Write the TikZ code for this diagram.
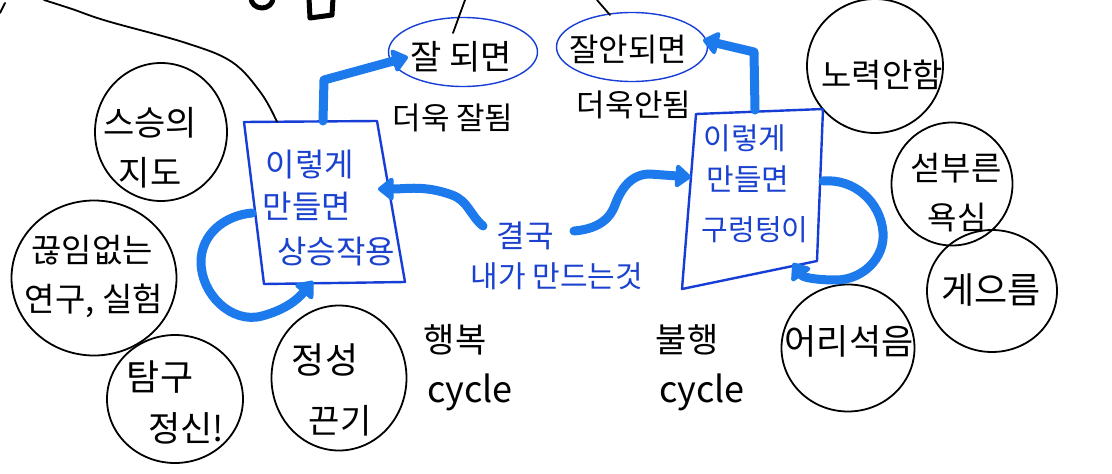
\documentclass[tikz,border=0pt]{standalone}
\usepackage{fontspec}
\newfontfamily\kr{Noto Sans CJK KR}
\usetikzlibrary{arrows.meta,shapes.geometric}
\definecolor{arrowblue}{RGB}{28,122,236}
\definecolor{boxblue}{RGB}{22,62,214}
\definecolor{textblue}{RGB}{26,66,206}
\begin{document}
\begin{tikzpicture}[x=1pt,y=-1pt,
  bubble/.style={draw=black,line width=1.8pt,ellipse,inner sep=0pt},
  oval/.style={draw=boxblue,line width=1.4pt,ellipse,inner sep=0pt},
  blk/.style={font=\kr\fontsize{#1}{#1}\selectfont,text=black,inner sep=0pt},
  blu/.style={font=\kr\fontsize{#1}{#1}\selectfont,text=textblue,inner sep=0pt},
  flow/.style={draw=arrowblue,line width=9pt,line cap=round,line join=round,-{Triangle[length=17pt,width=26pt,round]}},
  frame/.style={draw=boxblue,line width=2.4pt,line join=round},
  ink/.style={draw=black,line width=1.8pt,line cap=round},
  heavy/.style={draw=black,line width=5pt,line cap=round,line join=round}
]
\useasboundingbox (0,0) rectangle (1112,474);
\fill[white] (0,0) rectangle (1112,474);

% cropped strokes at the top edge
\begin{scope}
\clip (0,0) rectangle (1112,474);
\draw[heavy] (262,-2) ellipse [x radius=11pt, y radius=10pt];
\draw[heavy] (309,-2) -- (310,18) -- (332,15) -- (333,-2);
\end{scope}
\draw[ink] (0,13) -- (5,3);

% circles
\node[bubble,minimum width=132pt,minimum height=138pt] (teacher)  at (161,132) {};
\node[bubble,minimum width=165pt,minimum height=155pt] (research) at (94,278) {};
\node[bubble,minimum width=136pt,minimum height=128pt] (inquiry)  at (175,399) {};
\node[bubble,minimum width=135pt,minimum height=145pt] (sincere)  at (339,378) {};
\node[bubble,minimum width=136pt,minimum height=134pt] (noeffort) at (875,66) {};
\node[bubble,minimum width=121pt,minimum height=123pt] (greed)    at (952,184) {};
\node[bubble,minimum width=130pt,minimum height=122pt] (lazy)     at (992,291) {};
\node[bubble,minimum width=133pt,minimum height=127pt] (foolish)  at (848,348) {};

\node[blk=34] at (150,123) {스승의};
\node[blk=34] at (150,173) {지도};
\node[blk=33] at (92,250) {끊임없는};
\node[blk=33] at (94,301) {연구, 실험};
\node[blk=36] at (160,377) {탐구};
\node[blk=35] at (186,428) {정신!};
\node[blk=36] at (325,360) {정성};
\node[blk=34] at (340,421) {끈기};
\node[blk=33] at (882,75) {노력안함};
\node[blk=33] at (956,168) {섣부른};
\node[blk=32] at (957,218) {욕심};
\node[blk=36] at (991,290) {게으름};
\node[blk=35] at (849,341) {어리석음};

% ovals
\node[oval,minimum width=149pt,minimum height=69pt] (good) at (463,52) {};
\node[oval,minimum width=151pt,minimum height=69pt] (bad)  at (632,47) {};
\node[blk=34] at (461,57) {잘 되면};
\node[blk=32] at (628,50) {잘안되면};
\node[blk=31] (goodmore) at (453,118) {더욱 잘됨};
\node[blk=31] (badmore)  at (634,105) {더욱안됨};

% cycle labels
\node[blk=34] at (455,340) {행복};
\node[blk=36] at (470,392) {cycle};
\node[blk=34] at (687,340) {불행};
\node[blk=36] at (702,392) {cycle};

% boxes
\coordinate (b1tl) at (244,122); \coordinate (b1tr) at (377,121);
\coordinate (b1br) at (405,282); \coordinate (b1bl) at (264,284);
\draw[frame] (b1tl) -- (b1tr) -- (b1br) -- (b1bl) -- cycle;
\node[blu=32] at (310,165) {이렇게};
\node[blu=32] at (307,206) {만들면};
\node[blu=32] at (336,252) {상승작용};

\coordinate (b2tl) at (696,114); \coordinate (b2tr) at (823,109);
\coordinate (b2br) at (817,261); \coordinate (b2bl) at (682,289);
\draw[frame] (b2tl) -- (b2tr) -- (b2br) -- (b2bl) -- cycle;
\node[blu=30] at (745,138) {이렇게};
\node[blu=30] at (748,179) {만들면};
\node[blu=29] at (755,230) {구렁텅이};

% center text
\node[blu=31] (finally) at (525,236) {결국};
\node[blu=30] (imake) at (557,276) {내가 만드는것};

% black connector lines
\coordinate (topA) at (465,0); \coordinate (topB) at (597,0);
\coordinate (topC) at (44,0);
\coordinate (goodtop) at (453,33); \coordinate (badtop) at (610,15);
\coordinate (b1touch) at (277,121.8);
\draw[ink] (topA) -- (goodtop);
\draw[ink] (topB) -- (badtop);
\draw[ink] plot[smooth,tension=0.6] coordinates {(topC) (72,9) (107,21) (186,43) (232,62) (261,93) (b1touch)};

% blue arrows
\coordinate (b1up) at (323,121); \coordinate (goodin) at (408,57);
\draw[flow] (b1up) -- (324,80) -- (goodin);
\coordinate (b2up) at (755,110); \coordinate (badin) at (703,40);
\draw[flow] (b2up) -- (754,52) -- (badin);

\coordinate (b1left) at (252,213); \coordinate (b1bot) at (313,281);
\draw[flow] (b1left) to[out=185,in=90] (201,262) to[out=-90,in=195] (262,316) to[out=15,in=-130] (b1bot);

\coordinate (fin1) at (483,226); \coordinate (b1right) at (378,189);
\draw[flow] (fin1) to[out=140,in=-20] (452,195) to[out=160,in=0] (b1right);

\coordinate (fin2) at (574,231); \coordinate (b2left) at (691,177);
\draw[flow] (fin2) to[out=5,in=-110] (615,205) to[out=70,in=180] (650,174) -- (b2left);

\coordinate (b2right) at (823,181); \coordinate (b2bot) at (793,263);
\draw[flow] (b2right) to[out=5,in=95] (883,232) to[out=-85,in=0] (836,280) to[out=180,in=-55] (b2bot);
\end{tikzpicture}
\end{document}
